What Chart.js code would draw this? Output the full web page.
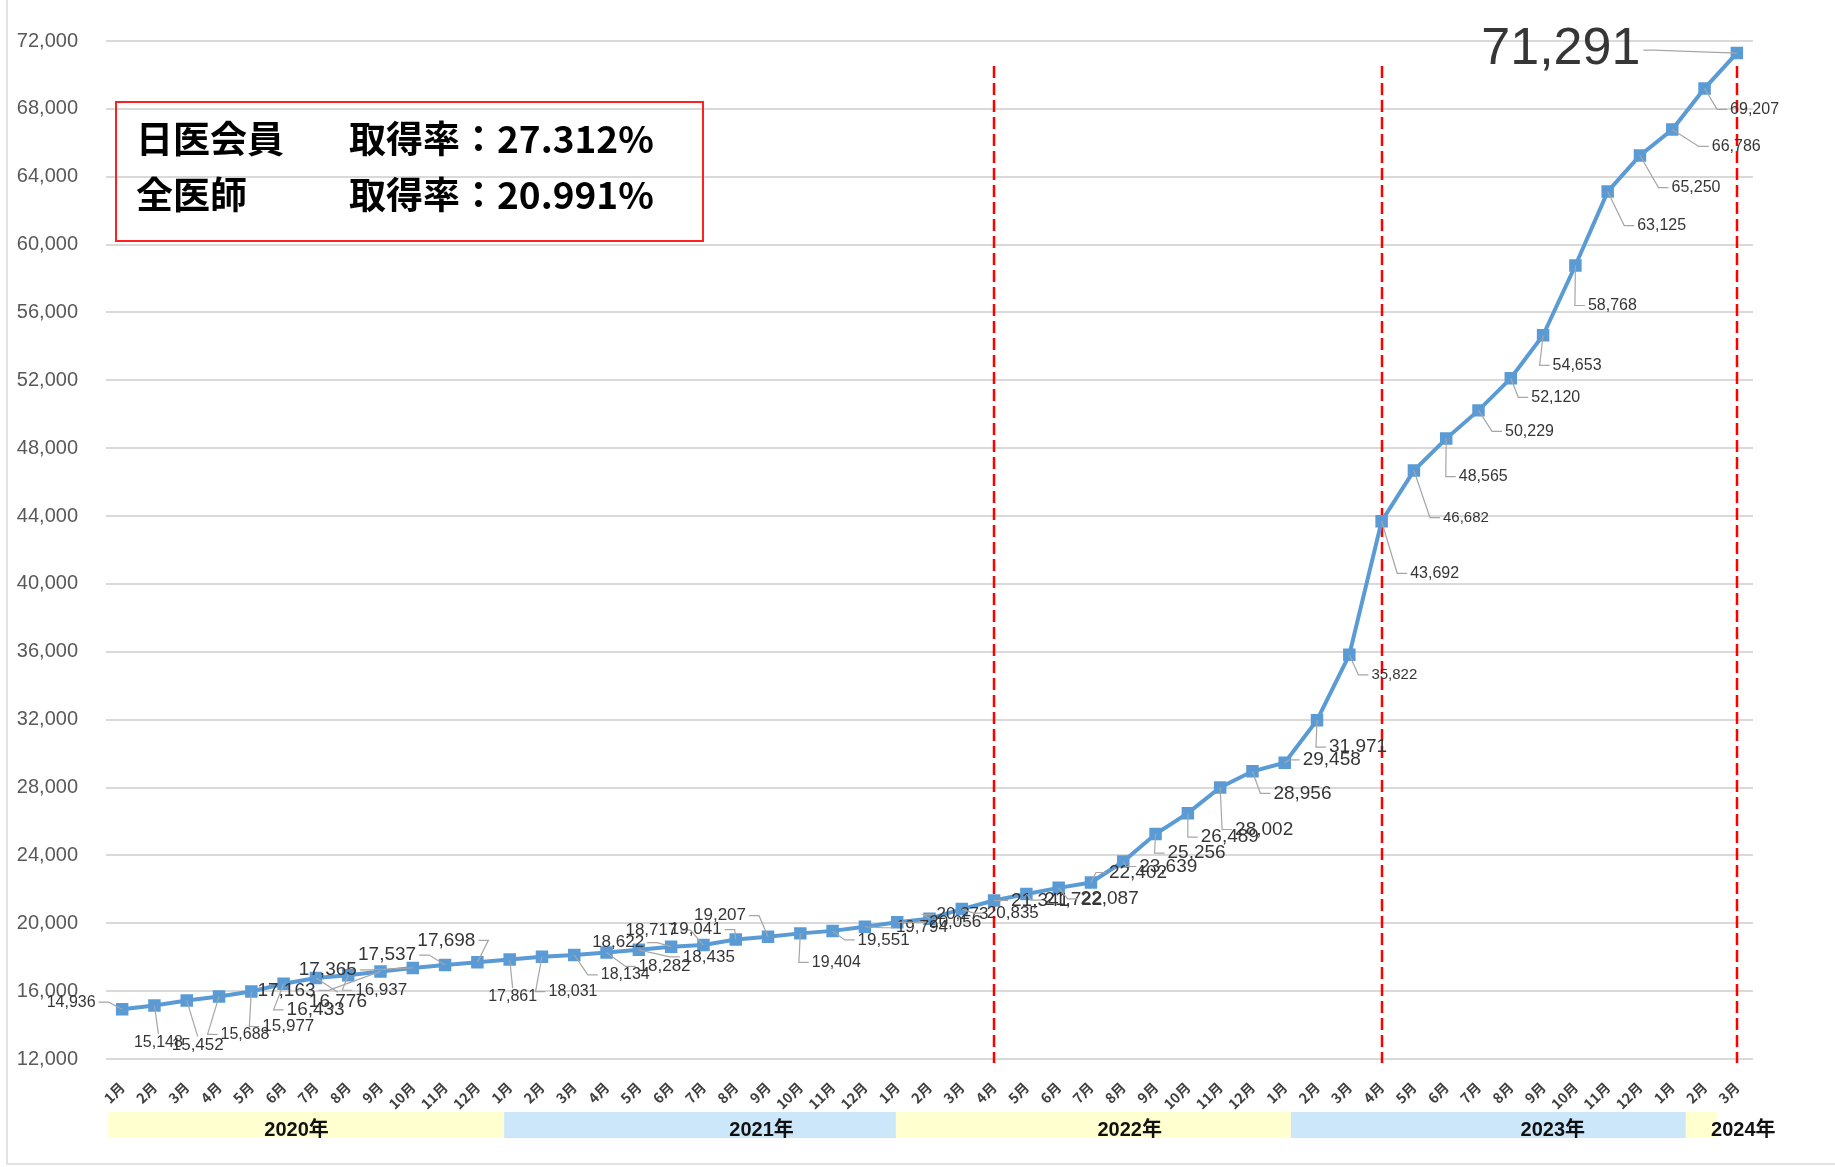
<!DOCTYPE html>
<html lang="ja">
<head>
<meta charset="utf-8">
<title>HPKIカード取得数の推移</title>
<script src="https://cdn.jsdelivr.net/npm/chart.js@4.4.1/dist/chart.umd.min.js"></script>
<style>
  html, body { margin: 0; padding: 0; background: #fff; }
  canvas { display: block; }
</style>
</head>
<body>
<canvas id="hpkiChart" width="1835" height="1167"></canvas>
<script>
// --- データ（2020年1月〜2024年3月、月次） ---
const monthLabels = [
  '1月','2月','3月','4月','5月','6月','7月','8月','9月','10月','11月','12月',
  '1月','2月','3月','4月','5月','6月','7月','8月','9月','10月','11月','12月',
  '1月','2月','3月','4月','5月','6月','7月','8月','9月','10月','11月','12月',
  '1月','2月','3月','4月','5月','6月','7月','8月','9月','10月','11月','12月',
  '1月','2月','3月'
];
const yearNames = ['2020年', '2021年', '2022年', '2023年', '2024年'];
const cardCounts = [
  14936, 15148, 15452, 15688, 15977, 16433, 16776, 16937, 17163, 17365, 17537, 17698,
  17861, 18031, 18134, 18282, 18435, 18622, 18717, 19041, 19207, 19404, 19551, 19794,
  20056, 20273, 20835, 21341, 21722, 22087, 22402, 23639, 25256, 26489, 28002, 28956,
  29458, 31971, 35822, 43692, 46682, 48565, 50229, 52120, 54653, 58768, 63125, 65250,
  66786, 69207, 71291
];
const yTickValues = [12000, 16000, 20000, 24000, 28000, 32000, 36000, 40000, 44000, 48000, 52000, 56000, 60000, 64000, 68000, 72000];
const eventIndexes = [27, 39, 50]; // 赤の破線（2022年4月、2023年4月、2024年3月）
const summaryRows = [
  ['日医会員', '取得率：27.312%'],
  ['全医師', '取得率：20.991%']
];

// --- 見た目の設定（ラベル位置・サイズ、年の帯） ---
const labelOffsets = [
  [-51,-7],[4,37],[11,45],[26,38],[37,35],[32,26],[22,24],[33,15],[-94,19],[-85,2],[-58,-10],[-31,-22],
  [3,37],[31,35],[51,20],[58,14],[70,7],[-53,-4],[-52,-15],[-40,-10],[-48,-21],[36,29],[51,9],[57,1],
  [58,0],[33,-4],[51,4],[46,0],[47,6],[51,11],[47,-10],[45,5],[41,19],[42,24],[44,42],[50,22],
  [47,-3],[41,27],[45,20],[53,52],[52,47],[37,38],[51,21],[45,19],[34,30],[37,40],[54,34],[56,32],
  [64,17],[50,21],[-176,-3]
];
const labelSizes = [
  16,16,17,16,17,19,19,17,19,19,19,19,
  16,16,16,17,17,17,17,17,17,16,17,17,
  17,17,17,19,19,19,19,19,19,19,19,19,
  19,19,15,16,15,16,16,16,16,16,16,16,
  16,16,52
];
// [開始, 終了, 文字の中心] （カテゴリ番号単位）
const bandSpans = [
  [-0.43, 11.83, 5.4],
  [11.83, 23.96, 19.8],
  [23.96, 36.19, 31.2],
  [36.19, 48.42, 44.3],
  [48.42, 49.38, 50.2]
];
const bandColors = ['#FFFFD0', '#CBE7F9'];

const LINE_BLUE = '#5B9BD5';
const fmt = v => v.toLocaleString('en-US');

// --- 描画プラグイン ---
const overlayPlugin = {
  id: 'overlay',
  beforeDatasetsDraw(chart) {
    const { ctx, chartArea, scales } = chart;
    ctx.save();
    ctx.strokeStyle = '#FF0000';
    ctx.lineWidth = 2.5;
    ctx.setLineDash([12, 5]);
    eventIndexes.forEach(i => {
      const x = Math.round(scales.x.getPixelForValue(i));
      ctx.beginPath();
      ctx.moveTo(x, 66);
      ctx.lineTo(x, chartArea.bottom + 4);
      ctx.stroke();
    });
    ctx.restore();
  },
  afterDatasetsDraw(chart) {
    const { ctx } = chart;
    const pts = chart.getDatasetMeta(0).data;
    ctx.save();
    ctx.textAlign = 'center';
    ctx.textBaseline = 'middle';
    pts.forEach((p, i) => {
      const text = fmt(cardCounts[i]);
      const size = labelSizes[i];
      ctx.font = `${size}px "Liberation Sans", Arial, sans-serif`;
      const w = ctx.measureText(text).width;
      const h = size * 0.8;
      const cx = p.x + labelOffsets[i][0];
      const cy = p.y + labelOffsets[i][1];
      const left = cx - w / 2, right = cx + w / 2;
      const top = cy - h / 2, bottom = cy + h / 2;

      // 引き出し線
      const far = p.x < left - 6 || p.x > right + 6 || p.y < top - 6 || p.y > bottom + 6;
      if (far) {
        let ax, ay, ex;
        if (p.x > right) { ax = right + 3; ay = cy; ex = ax + 10; }
        else if (p.x < left) { ax = left - 3; ay = cy; ex = ax - 10; }
        else { ax = cx; ay = p.y < top ? top - 2 : bottom + 2; ex = null; }
        ctx.strokeStyle = '#A6A6A6';
        ctx.lineWidth = 1.2;
        ctx.beginPath();
        ctx.moveTo(p.x, p.y);
        if (ex !== null) { ctx.lineTo(ex, ay); }
        ctx.lineTo(ax, ay);
        ctx.stroke();
      }
      ctx.fillStyle = '#363636';
      ctx.fillText(text, cx, cy);
    });
    ctx.restore();
  },
  afterDraw(chart) {
    const { ctx, scales } = chart;
    ctx.save();

    // 年の帯
    bandSpans.forEach((b, k) => {
      const x0 = scales.x.getPixelForValue(b[0]);
      const x1 = scales.x.getPixelForValue(b[1]);
      ctx.fillStyle = bandColors[k % 2];
      ctx.fillRect(x0, 1112, x1 - x0, 26);
    });
    ctx.fillStyle = '#111111';
    ctx.font = 'bold 20px "Liberation Sans", "Noto Sans CJK JP", sans-serif';
    ctx.textAlign = 'center';
    ctx.textBaseline = 'middle';
    bandSpans.forEach((b, k) => {
      ctx.fillText(yearNames[k], scales.x.getPixelForValue(b[2]), 1130);
    });

    // 取得率の枠
    ctx.strokeStyle = '#FF2020';
    ctx.lineWidth = 2;
    ctx.strokeRect(116, 102, 587, 139);
    ctx.fillStyle = '#000000';
    ctx.font = 'bold 37px "Noto Sans CJK JP", sans-serif';
    ctx.textAlign = 'left';
    summaryRows.forEach((row, r) => {
      const y = 139 + r * 56;
      ctx.fillText(row[0], 136, y);
      ctx.fillText(row[1], 349, y);
    });

    // グラフエリアの外枠
    ctx.strokeStyle = '#D9D9D9';
    ctx.lineWidth = 1.5;
    ctx.beginPath();
    ctx.moveTo(7, 0);
    ctx.lineTo(7, 1164);
    ctx.lineTo(1835, 1164);
    ctx.stroke();

    ctx.restore();
  }
};

// --- グラフ本体 ---
new Chart(document.getElementById('hpkiChart'), {
  type: 'line',
  data: {
    labels: monthLabels,
    datasets: [{
      data: cardCounts,
      borderColor: LINE_BLUE,
      backgroundColor: LINE_BLUE,
      borderWidth: 4,
      pointStyle: 'rect',
      pointRadius: 6,
      pointBackgroundColor: LINE_BLUE,
      pointBorderColor: LINE_BLUE,
      tension: 0,
      fill: false
    }]
  },
  options: {
    responsive: false,
    animation: false,
    devicePixelRatio: 1,
    layout: { padding: { top: 41, right: 82, bottom: 0, left: 0 } },
    plugins: {
      legend: { display: false },
      tooltip: { enabled: false }
    },
    scales: {
      x: {
        offset: true,
        grid: { display: false },
        border: { display: false },
        ticks: {
          autoSkip: false,
          maxRotation: 45,
          minRotation: 45,
          padding: 12,
          color: '#404040',
          font: { family: '"Noto Sans CJK JP", "Liberation Sans", sans-serif', size: 14, weight: 'bold' }
        },
        afterFit(scale) { scale.height = 108; }
      },
      y: {
        min: 12000,
        max: 72000,
        afterBuildTicks(scale) { scale.ticks = yTickValues.map(v => ({ value: v })); },
        grid: { color: '#D9D9D9', lineWidth: 2, drawTicks: false },
        border: { display: false },
        ticks: {
          padding: 28,
          color: '#595959',
          font: { family: '"Liberation Sans", Arial, sans-serif', size: 20 },
          callback: v => fmt(v)
        },
        afterFit(scale) { scale.width = 106; }
      }
    }
  },
  plugins: [overlayPlugin]
});
</script>
</body>
</html>
